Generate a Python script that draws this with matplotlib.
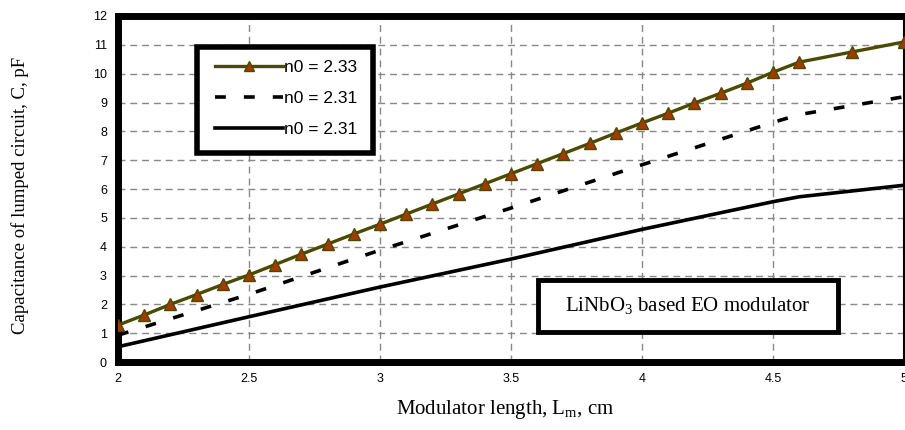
import matplotlib.pyplot as plt
from matplotlib.patches import Rectangle

plt.rcParams['mathtext.fontset'] = 'custom'
plt.rcParams['mathtext.rm'] = 'Liberation Serif'
plt.rcParams['mathtext.default'] = 'rm'

# data
x_tri = [2.0, 2.1, 2.2, 2.3, 2.4, 2.5, 2.6, 2.7, 2.8, 2.9, 3.0, 3.1, 3.2, 3.3, 3.4,
         3.5, 3.6, 3.7, 3.8, 3.9, 4.0, 4.1, 4.2, 4.3, 4.4, 4.5, 4.6, 4.8, 5.0]
c_233 = [1.28, 1.63, 2.0, 2.34, 2.69, 3.02, 3.38, 3.74, 4.09, 4.44, 4.78, 5.13, 5.48, 5.83, 6.18,
         6.53, 6.88, 7.23, 7.58, 7.94, 8.29, 8.63, 8.98, 9.32, 9.67, 10.05, 10.4, 10.75, 11.1]

x_lin = [2.0, 2.5, 3.0, 3.5, 4.0, 4.5, 4.6, 5.0]
c_231_dash = [0.93, 2.35, 3.88, 5.34, 6.84, 8.31, 8.58, 9.2]
c_231_solid = [0.53, 1.57, 2.6, 3.57, 4.6, 5.56, 5.73, 6.13]

labels = ["n0 = 2.33", "n0 = 2.31", "n0 = 2.31"]
x_ticks = [2, 2.5, 3, 3.5, 4, 4.5, 5]
x_ticklabels = ["2", "2.5", "3", "3.5", "4", "4.5", "5"]
y_ticks = list(range(0, 13))

fig = plt.figure(figsize=(9.05, 4.3), dpi=100)
ax = fig.add_axes([0.1304, 0.1581, 0.8685, 0.8047])

ax.plot(x_tri, c_233, color='#4b4a00', lw=2.4, marker='^', markersize=9,
        markerfacecolor='#a33a00', markeredgecolor='#4b4a00', markeredgewidth=1.0,
        label=labels[0], zorder=4)
ax.plot(x_lin, c_231_dash, color='black', lw=2.6, linestyle=(0, (3, 5)),
        label=labels[1], zorder=3)
ax.plot(x_lin, c_231_solid, color='black', lw=2.6, label=labels[2], zorder=3)

ax.set_xlim(2, 5)
ax.set_ylim(0, 12)
ax.set_xticks(x_ticks)
ax.set_xticklabels(x_ticklabels)
ax.set_yticks(y_ticks)
ax.tick_params(length=0, labelsize=9, pad=8)
for lab in ax.get_xticklabels() + ax.get_yticklabels():
    lab.set_family('Liberation Sans')
ax.grid(True, color='#888888', linestyle=(0, (5, 3.5)), lw=1.0)

for side in ['left', 'top', 'bottom']:
    ax.spines[side].set_linewidth(5)
ax.spines['right'].set_linewidth(1.5)

fig.text(0.558, 0.047, "Modulator length, L$_{m}$, cm", family='Liberation Serif',
         fontsize=15, ha='center', va='center')
fig.text(0.022, 0.545, "Capacitance of lumped circuit, C, pF", family='Liberation Serif',
         fontsize=13.5, rotation=90, ha='center', va='center')

# legend box
ax.add_patch(Rectangle((0.1005, 0.604), 0.2235, 0.306, transform=ax.transAxes,
                       facecolor='white', edgecolor='black', lw=4, zorder=5))
ax.legend(loc='center', bbox_to_anchor=(0.214, 0.762), frameon=False,
          prop={'family': 'Liberation Sans', 'size': 12.5}, handlelength=3.9,
          handletextpad=0.1, labelspacing=0.9, markerscale=0.8).set_zorder(6)

# annotation box
ax.add_patch(Rectangle((0.534, 0.087), 0.382, 0.15, transform=ax.transAxes,
                       facecolor='white', edgecolor='black', lw=3.5, zorder=5))
ax.text(0.725, 0.162, "LiNbO$_3$ based EO modulator", transform=ax.transAxes,
        ha='center', va='center', family='Liberation Serif', fontsize=15, zorder=6)

plt.savefig("out.png", dpi=100)
